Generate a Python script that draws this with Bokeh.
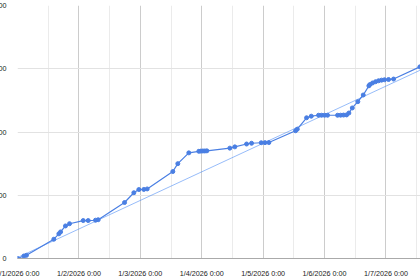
import numpy as np
import pandas as pd
from bokeh.plotting import figure
from bokeh.models import Range1d, FixedTicker
from bokeh.embed import file_html
from bokeh.resources import INLINE

# ---- data ----
times = [
    "2026-01-01 00:00", "2026-01-01 02:30", "2026-01-01 03:30", "2026-01-01 14:12",
    "2026-01-01 16:10", "2026-01-01 16:50", "2026-01-01 18:45", "2026-01-01 20:20",
    "2026-01-02 01:41", "2026-01-02 03:38", "2026-01-02 06:29", "2026-01-02 07:32",
    "2026-01-02 17:50", "2026-01-02 21:28", "2026-01-02 23:25", "2026-01-03 01:22",
    "2026-01-03 02:41", "2026-01-03 12:42", "2026-01-03 14:39", "2026-01-03 18:57",
    "2026-01-03 22:52", "2026-01-03 23:38", "2026-01-04 00:26", "2026-01-04 01:12",
    "2026-01-04 02:00", "2026-01-04 10:59", "2026-01-04 12:56", "2026-01-04 17:31",
    "2026-01-04 19:28", "2026-01-04 23:15", "2026-01-05 00:43", "2026-01-05 02:14",
    "2026-01-05 12:40", "2026-01-05 13:20", "2026-01-05 16:58", "2026-01-05 18:48",
    "2026-01-05 21:39", "2026-01-05 22:49", "2026-01-06 00:00", "2026-01-06 01:10",
    "2026-01-06 05:05", "2026-01-06 06:16", "2026-01-06 07:25", "2026-01-06 08:36",
    "2026-01-06 09:30", "2026-01-06 10:50", "2026-01-06 13:00", "2026-01-06 15:07",
    "2026-01-06 17:19", "2026-01-06 17:42", "2026-01-06 18:45", "2026-01-06 19:56",
    "2026-01-06 21:06", "2026-01-06 22:16", "2026-01-06 23:27", "2026-01-07 01:00",
    "2026-01-07 02:58", "2026-01-07 13:15",
]
values = [
    0, 40, 50, 305,
    390, 420, 515, 550,
    600, 600, 605, 613,
    885, 1040, 1090, 1092,
    1100, 1375, 1500, 1670,
    1695, 1698, 1700, 1700,
    1702, 1745, 1765, 1810,
    1822, 1830, 1832, 1833,
    2020, 2045, 2225, 2250,
    2265, 2265, 2265, 2265,
    2265, 2266, 2268, 2270,
    2300, 2380, 2480, 2585,
    2730, 2750, 2775, 2795,
    2810, 2820, 2826, 2830,
    2837, 3030,
]
# trendline values at the first and last time
trend_values = [15, 2975]

x_tick_dates = ["2026-01-01", "2026-01-02", "2026-01-03", "2026-01-04",
                "2026-01-05", "2026-01-06", "2026-01-07"]
x_tick_labels = ["1/1/2026 0:00", "1/2/2026 0:00", "1/3/2026 0:00", "1/4/2026 0:00",
                 "1/5/2026 0:00", "1/6/2026 0:00", "1/7/2026 0:00"]
y_ticks = [0, 1000, 2000, 3000, 4000]
y_tick_labels = ["0", "1000", "2000", "3000", "4000"]

EPOCH = pd.Timestamp("1970-01-01")
DAY_MS = 86400000.0


def to_ms(s):
    return (pd.to_datetime(s) - EPOCH) // pd.Timedelta("1ms")


x_ms = np.array([float(v) for v in to_ms(times)])
tick_ms = [float(v) for v in to_ms(x_tick_dates)]
minor_ms = [t + DAY_MS / 2 for t in tick_ms]
trend_x = [x_ms[0], x_ms[-1]]

SHIFT = 22
FONT = "Liberation Sans"

p = figure(
    width=420 + SHIFT, height=280,
    output_backend="svg", toolbar_location=None,
    x_range=Range1d(tick_ms[0], x_ms[-1] + 0.01 * DAY_MS),
    y_range=Range1d(0, 4000),
    min_border_left=17 + SHIFT, min_border_right=0,
    min_border_top=5, min_border_bottom=16,
    styles={"margin-left": f"-{SHIFT}px"},
)
p.outline_line_color = None
p.background_fill_color = "white"
p.border_fill_color = "white"

# grids
p.xgrid.ticker = FixedTicker(ticks=tick_ms, minor_ticks=minor_ms)
p.xgrid.grid_line_color = "#cccccc"
p.xgrid.minor_grid_line_color = "#ebebeb"
p.ygrid.ticker = FixedTicker(ticks=y_ticks)
p.ygrid.grid_line_color = "#e2e2e2"

# axes
xa = p.xaxis[0]
xa.ticker = FixedTicker(ticks=tick_ms)
xa.major_label_overrides = {t: lab for t, lab in zip(tick_ms, x_tick_labels)}
xa.axis_line_color = "#aaaaaa"
xa.major_tick_line_color = None
xa.minor_tick_line_color = None
xa.major_label_standoff = 4
xa.major_label_text_font = FONT
xa.major_label_text_font_size = "7.2px"
xa.major_label_text_color = "#222222"

ya = p.yaxis[0]
ya.ticker = FixedTicker(ticks=y_ticks)
ya.major_label_overrides = {t: lab for t, lab in zip(y_ticks, y_tick_labels)}
ya.axis_line_color = None
ya.major_tick_line_color = None
ya.minor_tick_line_color = None
ya.major_label_standoff = 5
ya.major_label_text_font = FONT
ya.major_label_text_font_size = "7.2px"
ya.major_label_text_color = "#222222"

# series
p.line(trend_x, trend_values, line_color="#4285f4", line_width=1, line_alpha=0.55)
p.line(x_ms, values, line_color="#4a7fe3", line_width=1.2)
p.scatter(x_ms, values, size=4, fill_color="#4a7fe3", line_color="#4a7fe3")

open("out.html", "w").write(file_html(p, INLINE))
